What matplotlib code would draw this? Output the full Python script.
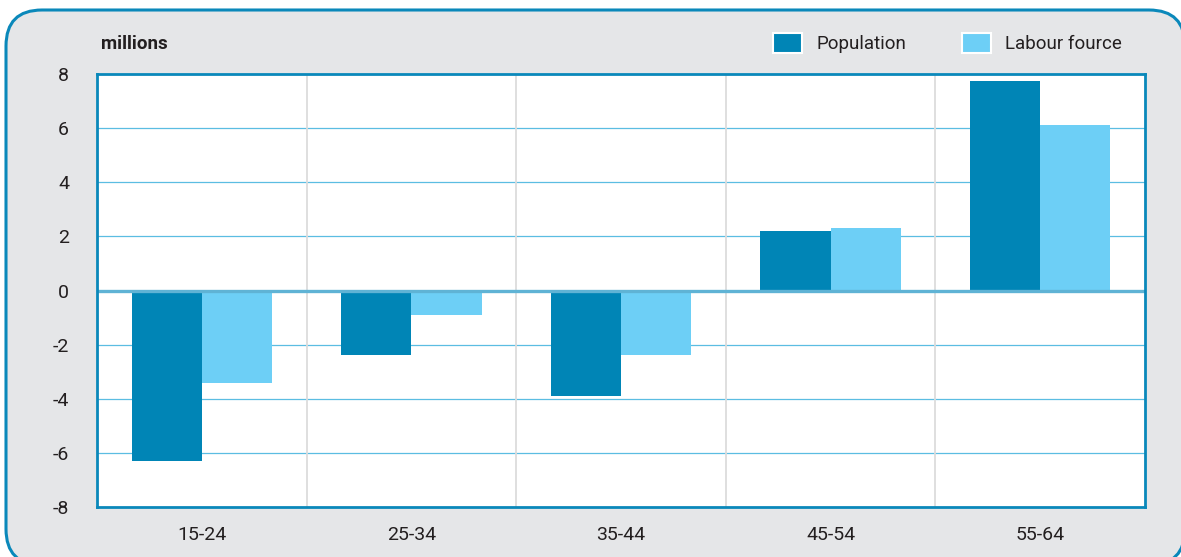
import numpy as np
import matplotlib.pyplot as plt
from matplotlib.patches import FancyBboxPatch, Rectangle

# ----------------------------
# Data
# ----------------------------
age_groups = ["15-24", "25-34", "35-44", "45-54", "55-64"]
population = [-6.3, -2.4, -3.9, 2.2, 7.75]
labour_force = [-3.4, -0.9, -2.4, 2.3, 6.1]
y_ticks = [-8, -6, -4, -2, 0, 2, 4, 6, 8]
series_names = ["Population", "Labour fource"]

pop_color = "#0085b6"
lf_color = "#6dcff6"
frame_blue = "#0a88ba"
text_color = "#231f20"

plt.rcParams["font.family"] = ["Roboto", "DejaVu Sans"]
plt.rcParams["axes.unicode_minus"] = False

W, H = 1181, 557
fig = plt.figure(figsize=(W / 100, H / 100), dpi=100)

# ----------------------------
# Rounded grey panel behind everything (pixel coords)
# ----------------------------
bg = fig.add_axes([0, 0, 1, 1], zorder=0)
bg.set_xlim(0, W)
bg.set_ylim(H, 0)
bg.axis("off")
panel = FancyBboxPatch(
    (6, 10), W - 2, H - 2,
    boxstyle="round,pad=0,rounding_size=36",
    facecolor="#e5e6e8", edgecolor=frame_blue, linewidth=2.2
)
bg.add_patch(panel)

# ----------------------------
# Main chart
# ----------------------------
ax = fig.add_axes([97 / W, 1 - 507 / H, (1145 - 97) / W, (507 - 74) / H], zorder=1)
ax.set_facecolor("white")

x = np.arange(len(age_groups))
width = 0.335
ax.bar(x - width / 2, population, width, color=pop_color, zorder=3)
ax.bar(x + width / 2, labour_force, width, color=lf_color, zorder=3)

ax.set_xlim(-0.5, len(age_groups) - 0.5)
ax.set_ylim(-8, 8)
ax.set_yticks(y_ticks)
ax.set_xticks(x)
ax.set_xticklabels(age_groups)

# grid lines
for yv in y_ticks[1:-1]:
    if yv == 0:
        ax.axhline(0, color="#5fb3d5", lw=2.4, zorder=4)
    else:
        ax.axhline(yv, color="#5bbde2", lw=0.9, zorder=1)
for xv in np.arange(0.5, len(age_groups) - 0.5, 1):
    ax.axvline(xv, color="#dcdcdc", lw=1.3, zorder=1)

for s in ax.spines.values():
    s.set_color(frame_blue)
    s.set_linewidth(2)
    s.set_zorder(5)

ax.tick_params(axis="both", length=0, labelsize=14, colors=text_color)
ax.tick_params(axis="y", pad=20)
ax.tick_params(axis="x", pad=14)

# unit label
bg.text(101, 44, "millions", fontsize=13.5, fontweight="bold",
        color=text_color, va="center", ha="left")

# legend drawn by hand in the top band
legend_x = [773, 962]
for lx, name, col in zip(legend_x, series_names, [pop_color, lf_color]):
    bg.add_patch(Rectangle((lx, 33), 29, 20, facecolor=col,
                           edgecolor="white", linewidth=1.5))
    bg.text(lx + 43, 44, name, fontsize=13.5, color=text_color,
            va="center", ha="left")

fig.savefig("out.png", dpi=100)
